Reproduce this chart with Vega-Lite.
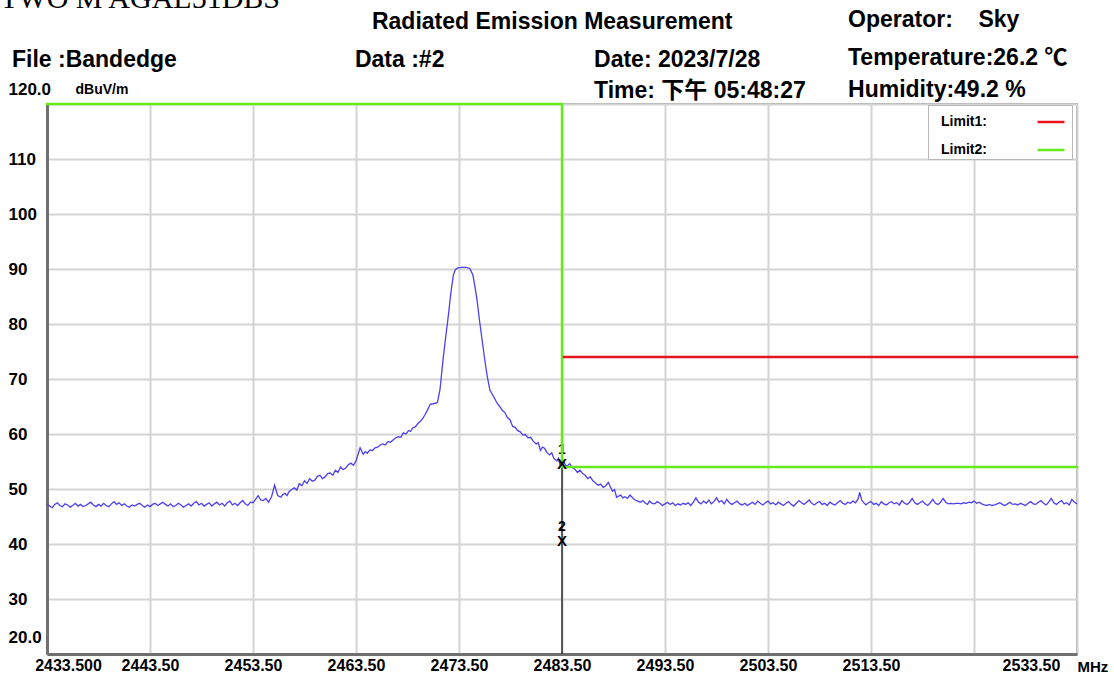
{
  "$schema": "https://vega.github.io/schema/vega-lite/v6.json",
  "width": 1030,
  "height": 550,
  "autosize": {"type": "none"},
  "padding": {"left": 47, "top": 104, "right": 37, "bottom": 21},
  "background": "white",
  "config": {"view": {"stroke": "#a8a8a8", "strokeWidth": 2}, "font": "Liberation Sans"},
  "datasets": {
    "trace": [
      {"f":2433.5,"v":47.3},{"f":2433.75,"v":46.9},{"f":2434,"v":46.6},{"f":2434.25,"v":47.2},{"f":2434.5,"v":47.5},
      {"f":2434.75,"v":47.0},{"f":2435,"v":46.8},{"f":2435.25,"v":47.3},{"f":2435.5,"v":47.1},{"f":2435.75,"v":46.7},
      {"f":2436,"v":47.0},{"f":2436.25,"v":47.4},{"f":2436.5,"v":46.9},{"f":2436.75,"v":47.2},{"f":2437,"v":46.8},
      {"f":2437.25,"v":47.0},{"f":2437.5,"v":47.3},{"f":2437.75,"v":47.6},{"f":2438,"v":47.1},{"f":2438.25,"v":46.8},
      {"f":2438.5,"v":47.2},{"f":2438.75,"v":46.9},{"f":2439,"v":47.4},{"f":2439.25,"v":47.0},{"f":2439.5,"v":46.8},
      {"f":2439.75,"v":47.3},{"f":2440,"v":47.7},{"f":2440.25,"v":47.2},{"f":2440.5,"v":47.5},{"f":2440.75,"v":47.0},
      {"f":2441,"v":47.3},{"f":2441.25,"v":46.9},{"f":2441.5,"v":46.7},{"f":2441.75,"v":47.1},{"f":2442,"v":46.9},
      {"f":2442.25,"v":47.2},{"f":2442.5,"v":47.4},{"f":2442.75,"v":47.0},{"f":2443,"v":46.7},{"f":2443.25,"v":47.1},
      {"f":2443.5,"v":46.8},{"f":2443.75,"v":47.2},{"f":2444,"v":47.4},{"f":2444.25,"v":47.0},{"f":2444.5,"v":47.3},
      {"f":2444.75,"v":47.6},{"f":2445,"v":47.2},{"f":2445.25,"v":46.9},{"f":2445.5,"v":47.3},{"f":2445.75,"v":46.8},
      {"f":2446,"v":47.0},{"f":2446.25,"v":47.4},{"f":2446.5,"v":47.1},{"f":2446.75,"v":46.7},{"f":2447,"v":47.0},
      {"f":2447.25,"v":47.3},{"f":2447.5,"v":46.9},{"f":2447.75,"v":47.4},{"f":2448,"v":47.7},{"f":2448.25,"v":47.1},
      {"f":2448.5,"v":47.4},{"f":2448.75,"v":46.9},{"f":2449,"v":47.2},{"f":2449.25,"v":47.5},{"f":2449.5,"v":46.9},
      {"f":2449.75,"v":47.3},{"f":2450,"v":47.6},{"f":2450.25,"v":47.1},{"f":2450.5,"v":47.4},{"f":2450.75,"v":46.9},
      {"f":2451,"v":47.5},{"f":2451.25,"v":47.8},{"f":2451.5,"v":47.1},{"f":2451.75,"v":47.4},{"f":2452,"v":47.0},
      {"f":2452.25,"v":47.5},{"f":2452.5,"v":47.9},{"f":2452.75,"v":47.3},{"f":2453,"v":47.0},{"f":2453.25,"v":47.6},
      {"f":2453.5,"v":47.5},{"f":2453.75,"v":48.1},{"f":2454,"v":48.8},{"f":2454.25,"v":48.0},{"f":2454.5,"v":47.9},
      {"f":2454.75,"v":48.3},{"f":2455,"v":47.6},{"f":2455.3,"v":48.6},{"f":2455.6,"v":50.7},{"f":2455.9,"v":48.8},
      {"f":2456.2,"v":48.5},{"f":2456.4,"v":49.0},{"f":2456.6,"v":49.2},{"f":2456.8,"v":48.8},{"f":2457,"v":49.5},
      {"f":2457.25,"v":49.9},{"f":2457.5,"v":50.2},{"f":2457.75,"v":49.8},{"f":2458,"v":51.0},{"f":2458.25,"v":50.6},
      {"f":2458.5,"v":51.5},{"f":2458.75,"v":51.0},{"f":2459,"v":51.9},{"f":2459.25,"v":51.4},{"f":2459.5,"v":51.6},
      {"f":2459.75,"v":52.3},{"f":2460,"v":52.5},{"f":2460.25,"v":51.9},{"f":2460.5,"v":52.2},{"f":2460.75,"v":52.8},
      {"f":2461,"v":52.9},{"f":2461.25,"v":52.5},{"f":2461.5,"v":53.4},{"f":2461.75,"v":53.0},{"f":2462,"v":54.0},
      {"f":2462.25,"v":53.5},{"f":2462.5,"v":53.8},{"f":2462.75,"v":54.4},{"f":2463,"v":54.7},{"f":2463.25,"v":54.3},
      {"f":2463.5,"v":55.1},{"f":2463.9,"v":57.5},{"f":2464.2,"v":56.3},{"f":2464.4,"v":56.8},{"f":2464.6,"v":56.5},
      {"f":2464.85,"v":57.1},{"f":2465.1,"v":57.0},{"f":2465.35,"v":57.5},{"f":2465.6,"v":57.6},{"f":2465.85,"v":58.0},
      {"f":2466.1,"v":58.2},{"f":2466.35,"v":58.0},{"f":2466.6,"v":58.6},{"f":2466.85,"v":58.5},{"f":2467.1,"v":58.9},
      {"f":2467.35,"v":59.3},{"f":2467.6,"v":59.5},{"f":2467.85,"v":59.4},{"f":2468.1,"v":60.2},{"f":2468.35,"v":60.0},
      {"f":2468.6,"v":60.6},{"f":2468.8,"v":60.5},{"f":2469,"v":61.1},{"f":2469.25,"v":61.3},{"f":2469.5,"v":61.9},
      {"f":2469.75,"v":62.3},{"f":2470,"v":62.9},{"f":2470.2,"v":63.5},{"f":2470.4,"v":64.2},{"f":2470.7,"v":65.4},
      {"f":2471,"v":65.5},{"f":2471.4,"v":65.7},{"f":2471.65,"v":68.0},{"f":2471.95,"v":73.5},{"f":2472.2,"v":77.5},
      {"f":2472.45,"v":81.3},{"f":2472.7,"v":85.5},{"f":2472.95,"v":88.9},{"f":2473.15,"v":89.9},{"f":2473.4,"v":90.2},
      {"f":2473.8,"v":90.3},{"f":2474.2,"v":90.3},{"f":2474.55,"v":90.1},{"f":2474.85,"v":88.9},{"f":2475.05,"v":86.8},
      {"f":2475.25,"v":84.4},{"f":2475.5,"v":80.5},{"f":2475.75,"v":77.0},{"f":2476,"v":73.5},{"f":2476.25,"v":70.4},
      {"f":2476.5,"v":68.0},{"f":2476.8,"v":67.0},{"f":2477.2,"v":65.6},{"f":2477.45,"v":65.0},{"f":2477.7,"v":64.3},
      {"f":2477.95,"v":63.9},{"f":2478.2,"v":63.0},{"f":2478.45,"v":62.6},{"f":2478.7,"v":61.4},{"f":2478.95,"v":61.2},
      {"f":2479.2,"v":60.6},{"f":2479.45,"v":60.4},{"f":2479.7,"v":59.8},{"f":2479.95,"v":59.9},{"f":2480.2,"v":59.3},
      {"f":2480.45,"v":59.4},{"f":2480.7,"v":58.7},{"f":2481,"v":58.2},{"f":2481.2,"v":58.4},{"f":2481.4,"v":57.0},
      {"f":2481.6,"v":57.6},{"f":2481.8,"v":57.4},{"f":2482.05,"v":56.6},{"f":2482.3,"v":56.2},{"f":2482.5,"v":56.6},
      {"f":2482.7,"v":55.6},{"f":2483,"v":55.1},{"f":2483.15,"v":55.6},{"f":2483.3,"v":54.5},{"f":2483.5,"v":55.2},
      {"f":2483.7,"v":54.9},{"f":2483.85,"v":54.3},{"f":2484,"v":54.2},{"f":2484.25,"v":54.6},{"f":2484.5,"v":53.9},
      {"f":2484.75,"v":53.6},{"f":2485,"v":53.0},{"f":2485.25,"v":53.4},{"f":2485.5,"v":52.8},{"f":2485.75,"v":52.5},
      {"f":2486,"v":51.9},{"f":2486.25,"v":52.2},{"f":2486.5,"v":51.5},{"f":2486.75,"v":51.1},{"f":2487,"v":50.7},
      {"f":2487.25,"v":50.9},{"f":2487.5,"v":50.3},{"f":2487.75,"v":50.6},{"f":2488,"v":51.2},{"f":2488.2,"v":50.4},
      {"f":2488.4,"v":49.6},{"f":2488.6,"v":49.9},{"f":2488.8,"v":48.5},{"f":2489,"v":48.7},{"f":2489.2,"v":48.9},
      {"f":2489.4,"v":48.4},{"f":2489.6,"v":48.6},{"f":2489.85,"v":48.3},{"f":2490.1,"v":48.9},{"f":2490.35,"v":48.4},
      {"f":2490.6,"v":48.0},{"f":2490.85,"v":47.8},{"f":2491.1,"v":47.6},{"f":2491.35,"v":47.9},{"f":2491.6,"v":47.4},
      {"f":2491.8,"v":47.2},{"f":2492,"v":47.8},{"f":2492.25,"v":47.4},
      {"f":2492.5,"v":47.3},{"f":2492.75,"v":47.7},{"f":2493,"v":47.4},{"f":2493.25,"v":47.0},{"f":2493.5,"v":47.3},
      {"f":2493.75,"v":47.6},{"f":2494,"v":47.2},{"f":2494.25,"v":47.5},{"f":2494.5,"v":47.0},{"f":2494.75,"v":47.3},
      {"f":2495,"v":47.1},{"f":2495.25,"v":47.4},{"f":2495.5,"v":47.2},{"f":2495.75,"v":47.5},{"f":2496,"v":47.0},
      {"f":2496.25,"v":47.6},{"f":2496.5,"v":48.4},{"f":2496.75,"v":47.6},{"f":2497,"v":47.3},{"f":2497.25,"v":47.8},
      {"f":2497.5,"v":47.4},{"f":2497.75,"v":48.0},{"f":2498,"v":47.3},{"f":2498.25,"v":47.7},{"f":2498.5,"v":48.4},
      {"f":2498.75,"v":47.6},{"f":2499,"v":47.9},{"f":2499.25,"v":47.3},{"f":2499.5,"v":48.1},{"f":2499.75,"v":47.5},
      {"f":2500,"v":47.2},{"f":2500.25,"v":47.5},{"f":2500.5,"v":47.8},{"f":2500.75,"v":47.3},{"f":2501,"v":47.1},
      {"f":2501.25,"v":47.4},{"f":2501.5,"v":47.0},{"f":2501.75,"v":47.3},{"f":2502,"v":47.6},{"f":2502.25,"v":47.2},
      {"f":2502.5,"v":47.8},{"f":2502.75,"v":47.4},{"f":2503,"v":47.1},{"f":2503.25,"v":47.5},{"f":2503.5,"v":47.8},
      {"f":2503.75,"v":47.3},{"f":2504,"v":47.5},{"f":2504.25,"v":47.1},{"f":2504.5,"v":47.6},{"f":2504.75,"v":47.3},
      {"f":2505,"v":47.0},{"f":2505.25,"v":47.4},{"f":2505.5,"v":47.7},{"f":2505.75,"v":47.2},{"f":2506,"v":46.9},
      {"f":2506.25,"v":47.4},{"f":2506.5,"v":47.9},{"f":2506.75,"v":47.5},{"f":2507,"v":47.2},{"f":2507.25,"v":47.6},
      {"f":2507.5,"v":48.0},{"f":2507.75,"v":47.4},{"f":2508,"v":47.1},{"f":2508.25,"v":47.5},{"f":2508.5,"v":47.7},
      {"f":2508.75,"v":47.2},{"f":2509,"v":47.4},{"f":2509.25,"v":47.0},{"f":2509.5,"v":47.6},{"f":2509.75,"v":47.3},
      {"f":2510,"v":47.1},{"f":2510.25,"v":47.5},{"f":2510.5,"v":47.9},{"f":2510.75,"v":47.4},{"f":2511,"v":47.2},
      {"f":2511.25,"v":47.6},{"f":2511.5,"v":47.4},{"f":2511.75,"v":47.8},{"f":2512,"v":47.5},{"f":2512.25,"v":48.2},
      {"f":2512.4,"v":49.4},{"f":2512.6,"v":48.0},{"f":2512.75,"v":47.6},{"f":2513,"v":47.1},{"f":2513.25,"v":47.5},
      {"f":2513.5,"v":47.7},{"f":2513.75,"v":47.2},{"f":2514,"v":47.4},{"f":2514.25,"v":47.0},{"f":2514.5,"v":47.7},
      {"f":2514.75,"v":47.3},{"f":2515,"v":47.1},{"f":2515.25,"v":47.5},{"f":2515.5,"v":47.7},{"f":2515.75,"v":47.3},
      {"f":2516,"v":47.5},{"f":2516.25,"v":47.1},{"f":2516.5,"v":47.9},{"f":2516.75,"v":47.4},{"f":2517,"v":47.2},
      {"f":2517.25,"v":47.6},{"f":2517.5,"v":48.3},{"f":2517.75,"v":47.5},{"f":2518,"v":47.2},{"f":2518.25,"v":47.5},
      {"f":2518.5,"v":47.8},{"f":2518.75,"v":47.3},{"f":2519,"v":47.0},{"f":2519.25,"v":47.5},{"f":2519.5,"v":48.1},
      {"f":2519.75,"v":47.4},{"f":2520,"v":47.2},{"f":2520.25,"v":47.6},{"f":2520.5,"v":48.3},{"f":2520.75,"v":47.6},
      {"f":2521,"v":47.3},{"f":2521.25,"v":47.4},{"f":2521.5,"v":47.3},{"f":2521.75,"v":47.4},{"f":2522,"v":47.4},
      {"f":2522.25,"v":47.3},{"f":2522.5,"v":47.5},{"f":2522.75,"v":47.4},{"f":2523,"v":47.6},{"f":2523.25,"v":47.5},
      {"f":2523.5,"v":47.8},{"f":2523.75,"v":47.4},{"f":2524,"v":47.6},{"f":2524.25,"v":47.3},{"f":2524.5,"v":47.1},
      {"f":2524.75,"v":47.0},{"f":2525,"v":47.2},{"f":2525.25,"v":47.0},{"f":2525.5,"v":47.1},{"f":2525.75,"v":47.3},
      {"f":2526,"v":47.5},{"f":2526.25,"v":47.2},{"f":2526.5,"v":47.0},{"f":2526.75,"v":47.3},{"f":2527,"v":47.6},
      {"f":2527.25,"v":47.2},{"f":2527.5,"v":47.3},{"f":2527.75,"v":47.1},{"f":2528,"v":47.4},{"f":2528.25,"v":47.2},
      {"f":2528.5,"v":47.0},{"f":2528.75,"v":47.4},{"f":2529,"v":47.7},{"f":2529.25,"v":47.3},{"f":2529.5,"v":47.2},
      {"f":2529.75,"v":47.6},{"f":2530,"v":47.9},{"f":2530.25,"v":47.4},{"f":2530.5,"v":47.1},{"f":2530.75,"v":47.6},
      {"f":2531,"v":48.3},{"f":2531.25,"v":47.5},{"f":2531.5,"v":47.2},{"f":2531.75,"v":47.6},{"f":2532,"v":47.9},
      {"f":2532.25,"v":47.3},{"f":2532.5,"v":47.5},{"f":2532.75,"v":47.1},{"f":2533,"v":48.1},{"f":2533.25,"v":47.6},
      {"f":2533.5,"v":47.3}
    ],
    "limits": [
      {"limit":"Limit2","i":0,"f":2433.5,"v":120},
      {"limit":"Limit2","i":1,"f":2483.5,"v":120},
      {"limit":"Limit2","i":2,"f":2483.5,"v":54},
      {"limit":"Limit2","i":3,"f":2533.5,"v":54},
      {"limit":"Limit1","i":0,"f":2483.7,"v":74},
      {"limit":"Limit1","i":1,"f":2533.5,"v":74}
    ],
    "markers": [
      {"m":"1","f":2483.5,"v":54.6},
      {"m":"2","f":2483.5,"v":40.6}
    ],
    "markerLine": [{"f":2483.5,"lo":20,"hi":57.8}],
    "header": [
      {"t":"Radiated Emission Measurement","f":2465.05,"v":134.9},
      {"t":"File :Bandedge","f":2430.1,"v":128.0},
      {"t":"Data :#2","f":2463.4,"v":128.0},
      {"t":"Date: 2023/7/28","f":2486.61,"v":128.0},
      {"t":"Time: 下午 05:48:27","f":2486.61,"v":122.3},
      {"t":"Operator:\u00a0\u00a0\u00a0\u00a0Sky","f":2511.27,"v":135.27},
      {"t":"Temperature:26.2 ℃","f":2511.27,"v":128.36},
      {"t":"Humidity:49.2 %","f":2511.27,"v":122.6}
    ],
    "topText": [{"t":"TWO M AGAL51DBS","f":2428.94,"v":137.45}]
  },
  "layer": [
    {
      "data": {"name": "trace"},
      "mark": {"type": "line", "color": "#4d3ff2", "strokeWidth": 1.3, "interpolate": "linear"},
      "encoding": {
        "x": {
          "field": "f", "type": "quantitative",
          "scale": {"domain": [2433.5, 2533.5], "nice": false, "zero": false},
          "axis": {
            "values": [2433.5, 2443.5, 2453.5, 2463.5, 2473.5, 2483.5, 2493.5, 2503.5, 2513.5, 2523.5, 2533.5],
            "labelExpr": "datum.value == 2433.5 ? '2433.500' : (datum.value == 2523.5 ? '' : format(datum.value, '.2f'))",
            "grid": true, "gridColor": "#d4d4d4", "gridWidth": 2,
            "ticks": false, "tickSize": 0,
            "domainColor": "#707070", "domainWidth": 3,
            "labelFont": "Liberation Sans", "labelFontWeight": "bold", "labelFontSize": 16, "labelColor": "black",
            "labelPadding": 3, "labelFlush": false, "labelOverlap": false, "labelBaseline": "top",
            "labelOffset": {"condition": [{"test": "datum.value == 2433.5", "value": 21}, {"test": "datum.value == 2533.5", "value": -46}], "value": 0},
            "title": "MHz", "titleX": 1030, "titleY": 12, "titleAlign": "left", "titleBaseline": "middle",
            "titleFont": "Liberation Sans", "titleFontSize": 15, "titleFontWeight": "bold", "titleColor": "black"
          }
        },
        "y": {
          "field": "v", "type": "quantitative",
          "scale": {"domain": [20, 120], "nice": false, "zero": false},
          "axis": {
            "values": [20, 30, 40, 50, 60, 70, 80, 90, 100, 110, 120],
            "labelExpr": "datum.value == 20 ? '20.0' : (datum.value == 120 ? '120.0' : datum.label)",
            "grid": true, "gridColor": "#d4d4d4", "gridWidth": 2,
            "ticks": false, "tickSize": 0,
            "domainColor": "#707070", "domainWidth": 3,
            "labelFont": "Liberation Sans", "labelFontWeight": "bold", "labelFontSize": 17, "labelColor": "black",
            "labelAlign": "left", "labelPadding": 39, "labelBaseline": "middle", "labelFlush": false, "labelOverlap": false,
            "labelOffset": {"condition": [{"test": "datum.value == 20", "value": -17}, {"test": "datum.value == 120", "value": -15}], "value": 0},
            "title": "dBuV/m", "titleAngle": 0, "titleX": 28, "titleY": -15, "titleAlign": "left", "titleBaseline": "middle",
            "titleFont": "Liberation Sans", "titleFontSize": 14, "titleFontWeight": "bold", "titleColor": "black"
          }
        }
      }
    },
    {
      "data": {"name": "markers"},
      "mark": {"type": "text", "text": {"expr": "datum.m"}, "dy": -14, "fontSize": 14, "fontWeight": "bold", "color": "black", "font": "Liberation Sans"},
      "encoding": {"x": {"field": "f", "type": "quantitative"}, "y": {"field": "v", "type": "quantitative"}}
    },
    {
      "data": {"name": "markerLine"},
      "mark": {"type": "rule", "color": "black", "strokeWidth": 1.2},
      "encoding": {"x": {"field": "f", "type": "quantitative"}, "y": {"field": "lo", "type": "quantitative"}, "y2": {"field": "hi"}}
    },
    {
      "data": {"name": "limits"},
      "mark": {"type": "line", "strokeWidth": 2.5, "strokeCap": "square"},
      "encoding": {
        "x": {"field": "f", "type": "quantitative"},
        "y": {"field": "v", "type": "quantitative"},
        "order": {"field": "i", "type": "quantitative"},
        "color": {
          "field": "limit", "type": "nominal",
          "scale": {"domain": ["Limit1", "Limit2"], "range": ["#e8141c", "#66ea1a"]},
          "legend": {
            "orient": "none", "legendX": 881, "legendY": 1, "title": null,
            "labelExpr": "datum.label + ':'",
            "symbolType": "stroke", "symbolSize": 729, "symbolStrokeWidth": 2.5,
            "symbolOffset": 106, "labelOffset": -125,
            "labelFont": "Liberation Sans", "labelFontSize": 14, "labelFontWeight": "bold", "labelColor": "black",
            "fillColor": "white", "strokeColor": "#b8b8b8", "padding": 2, "rowPadding": 6
          }
        }
      }
    },
    {
      "data": {"name": "markers"},
      "mark": {"type": "text", "text": "X", "fontSize": 15, "fontWeight": "bold", "color": "black", "font": "Liberation Sans", "baseline": "middle"},
      "encoding": {"x": {"field": "f", "type": "quantitative"}, "y": {"field": "v", "type": "quantitative"}}
    },
    {
      "data": {"name": "header"},
      "mark": {"type": "text", "align": "left", "baseline": "middle", "fontSize": 23, "fontWeight": "bold", "color": "black", "font": "Liberation Sans, Noto Sans CJK SC", "clip": false},
      "encoding": {"x": {"field": "f", "type": "quantitative"}, "y": {"field": "v", "type": "quantitative"}, "text": {"field": "t"}}
    },
    {
      "data": {"name": "topText"},
      "mark": {"type": "text", "align": "left", "baseline": "alphabetic", "fontSize": 30, "color": "black", "font": "Liberation Serif", "clip": false},
      "encoding": {"x": {"field": "f", "type": "quantitative"}, "y": {"field": "v", "type": "quantitative"}, "text": {"field": "t"}}
    }
  ]
}
